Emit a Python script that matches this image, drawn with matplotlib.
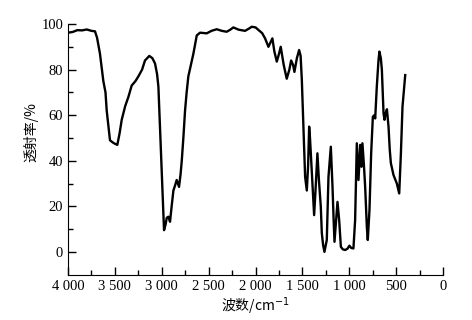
import matplotlib
matplotlib.use("Agg")
import matplotlib.pyplot as plt
from matplotlib.ticker import MultipleLocator, FixedLocator, FixedFormatter

# 红外光谱数据 (波数 cm-1, 透射率 %)
wavenumber = [4000, 3950, 3900, 3850, 3800, 3750, 3712, 3690, 3659, 3623, 3600, 3587,
              3552, 3520, 3500, 3474, 3450, 3427, 3390, 3356, 3321, 3280, 3250, 3210,
              3179, 3133, 3100, 3072, 3050, 3036, 3019, 3001, 2976, 2960, 2947, 2930,
              2912, 2895, 2876, 2860, 2841, 2816, 2800, 2787, 2770, 2752, 2735, 2717,
              2690, 2663, 2627, 2592, 2550, 2521, 2470, 2414, 2360, 2308, 2270, 2237,
              2180, 2112, 2070, 2041, 2000, 1970, 1930, 1899, 1863, 1821, 1800, 1774,
              1750, 1732, 1700, 1668, 1640, 1621, 1600, 1586, 1560, 1536, 1520, 1507,
              1490, 1472, 1454, 1440, 1429, 1420, 1411, 1401, 1376, 1360, 1341, 1325,
              1305, 1294, 1280, 1266, 1241, 1223, 1198, 1180, 1168, 1159, 1145, 1127,
              1109, 1091, 1070, 1045, 1020, 1000, 980, 957, 939, 921, 903, 885,
              871, 861, 845, 832, 814, 804, 786, 768, 750, 735, 725, 708,
              690, 680, 665, 654, 636, 626, 612, 600, 583, 570, 558, 530,
              494, 469, 451, 434, 405]
transmittance = [96.2, 96.5, 97.3, 97.2, 97.6, 97.0, 96.8, 94, 87, 75, 70, 62,
                 49, 48, 47.5, 47, 52, 58, 64, 68, 73, 75, 77, 80,
                 84, 86, 85, 82.7, 78, 72.5, 55, 36, 9.6, 12, 15, 15.5,
                 13.3, 20, 27, 29, 31.6, 28.6, 34, 40, 50, 62, 70, 77,
                 82, 87, 95, 96.2, 96, 95.9, 97, 97.7, 97, 96.6, 97.5, 98.5,
                 97.5, 97, 98, 98.8, 98.5, 97.4, 96, 93.7, 90, 93.7, 88, 83.5,
                 87, 90, 82, 76, 80, 84, 82, 79, 85, 88.6, 86, 75.4,
                 55, 33, 27, 38, 55, 50, 43, 36, 16.2, 28, 43.3, 31.6,
                 20, 8.3, 3, 0.1, 5.3, 33, 46.2, 28.6, 14, 4.5, 12, 22,
                 14, 2.3, 1.2, 0.9, 1.5, 2.8, 1.8, 1.6, 14, 47.7, 31.6, 47,
                 37.4, 47.7, 38, 28.6, 11, 5.3, 18.4, 43.3, 59.3, 60, 58.6, 72.5,
                 84, 87.9, 85, 80, 60.8, 58, 61, 62.6, 55, 45, 39, 33.8,
                 30, 25.7, 43.3, 63.7, 77.6]

x_ticks = [4000, 3500, 3000, 2500, 2000, 1500, 1000, 500, 0]
x_tick_labels = ["4 000", "3 500", "3 000", "2 500", "2 000", "1 500", "1 000", "500", "0"]
y_ticks = [0, 20, 40, 60, 80, 100]

cjk = ["Noto Sans CJK SC", "DejaVu Sans"]

fig = plt.figure(figsize=(4.72, 3.2), dpi=100)
ax = fig.add_axes([0.144, 0.141, 0.795, 0.784])

ax.plot(wavenumber, transmittance, color="black", linewidth=1.7)

ax.set_xlim(4000, 0)
ax.set_ylim(-10, 100)

ax.xaxis.set_major_locator(FixedLocator(x_ticks))
ax.xaxis.set_major_formatter(FixedFormatter(x_tick_labels))
ax.xaxis.set_minor_locator(MultipleLocator(250))
ax.yaxis.set_major_locator(FixedLocator(y_ticks))
ax.yaxis.set_minor_locator(FixedLocator([10, 30, 50, 70, 90]))

ax.tick_params(which="both", direction="in", width=1)
ax.tick_params(which="major", length=6, labelsize=10.5)
ax.tick_params(which="minor", length=3.5)
for lbl in ax.get_xticklabels() + ax.get_yticklabels():
    lbl.set_family("Liberation Serif")

for s in ["top", "right"]:
    ax.spines[s].set_visible(False)
ax.spines["left"].set_bounds(-10, 100)

ax.set_xlabel("波数/cm$^{-1}$", family=cjk, fontsize=10)
ax.set_ylabel("透射率/%", family=cjk, fontsize=10)
ax.xaxis.set_label_coords(0.5, -0.08)
ax.yaxis.set_label_coords(-0.08, 0.57)

fig.savefig("out.png", dpi=100)
